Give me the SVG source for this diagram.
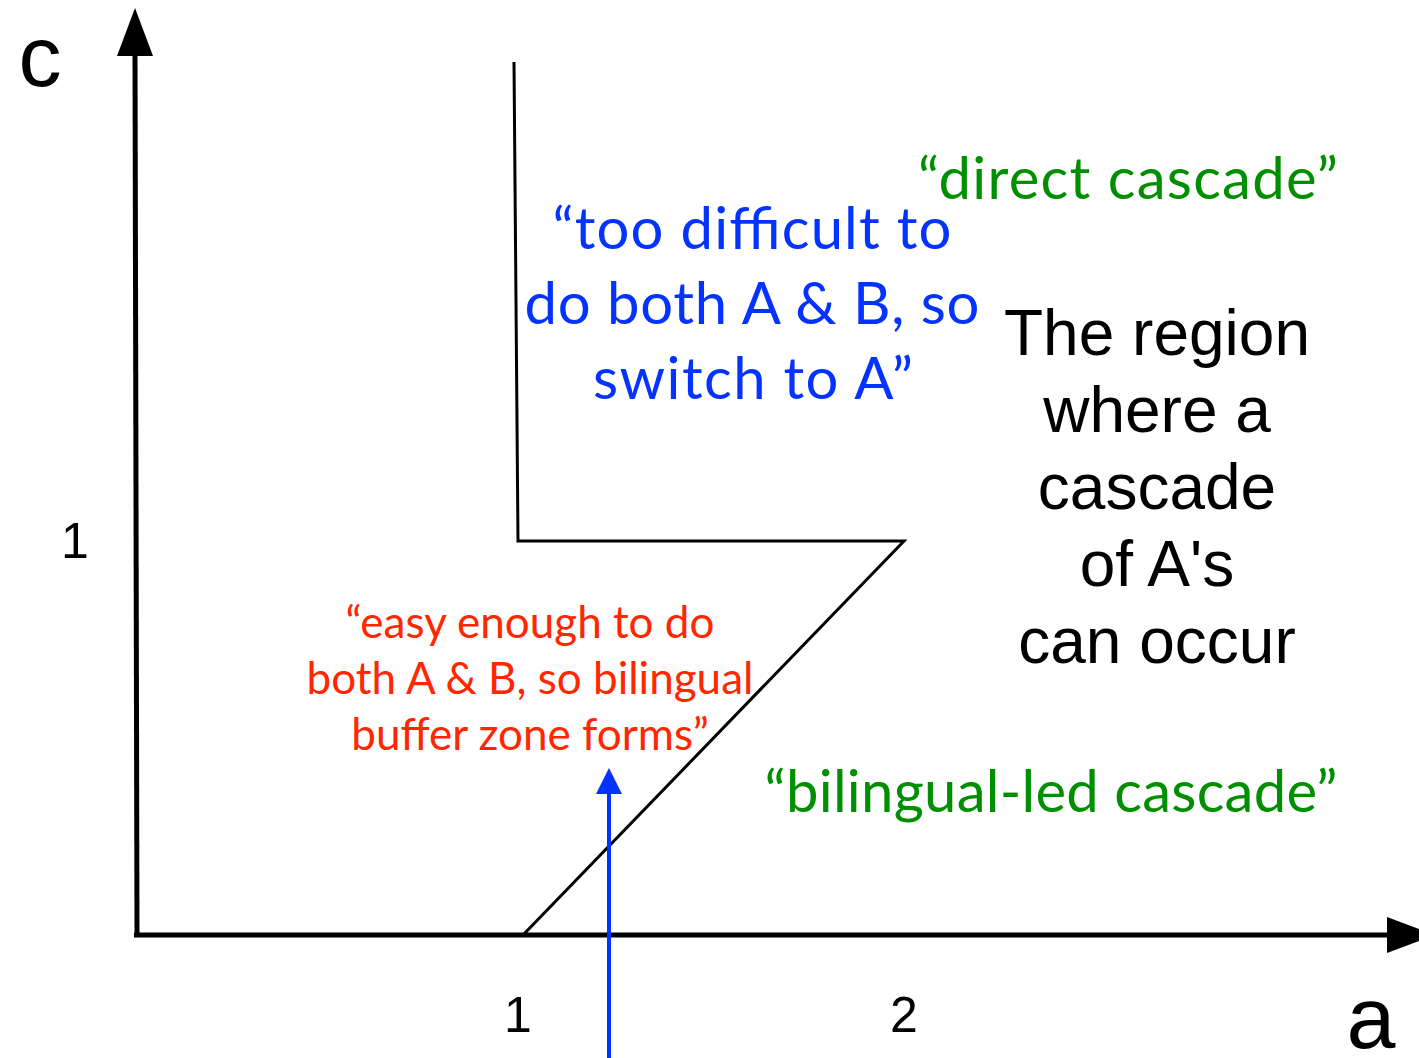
<svg xmlns="http://www.w3.org/2000/svg" width="1419" height="1058" viewBox="0 0 1419 1058">
<style>
.ax{stroke:#000;stroke-width:5;fill:none}
.bd{stroke:#000;stroke-width:3;fill:none;stroke-linejoin:miter}
.lbl{font-family:"Liberation Sans",Arial,sans-serif;fill:#000}
.gs{font-family:Lato,"Open Sans",sans-serif;text-anchor:middle}
.blue{fill:#0433FF}
.green{fill:#008F00}
.red{fill:#FF2600}
.ctr{text-anchor:middle}
</style>
<rect width="1419" height="1058" fill="#fff"/>
<g id="connectors">
<line class="ax" x1="137" y1="937" x2="135" y2="52"/>
<polygon points="135,8 153,56 117,56" fill="#000"/>
<line class="ax" x1="134" y1="935" x2="1392" y2="935"/>
<polygon points="1387,917 1435,935 1387,953" fill="#000"/>
<polyline class="bd" points="514,62 518,541 904,541 523,935"/>
<line x1="609" y1="1058" x2="609" y2="790" stroke="#0433FF" stroke-width="4"/>
<polygon points="609,768 622,794 596,794" fill="#0433FF"/>
</g>
<g id="axis-labels">
<text class="lbl" x="40" y="86" font-size="86" text-anchor="middle">c</text>
<text class="lbl" x="75" y="558" font-size="50" text-anchor="middle">1</text>
<text class="lbl" x="518" y="1032" font-size="50" text-anchor="middle">1</text>
<text class="lbl" x="904" y="1032" font-size="50" text-anchor="middle">2</text>
<text class="lbl" x="1371" y="1048" font-size="88" text-anchor="middle">a</text>
</g>
<g id="too-difficult">
<text class="gs blue" font-size="58" x="752" y="249" textLength="399">“too difficult to</text>
<text class="gs blue" font-size="58" x="752" y="324" textLength="455">do both A &amp; B, so</text>
<text class="gs blue" font-size="58" x="753" y="399" textLength="320">switch to A”</text>
</g>
<g id="direct-cascade">
<text class="gs green" x="1128" y="199" font-size="58" textLength="420">“direct cascade”</text>
</g>
<g id="region">
<text class="lbl ctr" font-size="64"><tspan x="1157" y="355">The region</tspan><tspan x="1157" y="432">where a</tspan><tspan x="1157" y="509">cascade</tspan><tspan x="1157" y="586">of A's</tspan><tspan x="1157" y="663">can occur</tspan></text>
</g>
<g id="easy-enough">
<text class="gs red" font-size="44"><tspan x="530" y="638">“easy enough to do</tspan><tspan x="530" y="694">both A &amp; B, so bilingual</tspan><tspan x="530" y="750">buffer zone forms”</tspan></text>
</g>
<g id="bilingual-led">
<text class="gs green" x="1051" y="812" font-size="58" textLength="573">“bilingual-led cascade”</text>
</g>
</svg>
